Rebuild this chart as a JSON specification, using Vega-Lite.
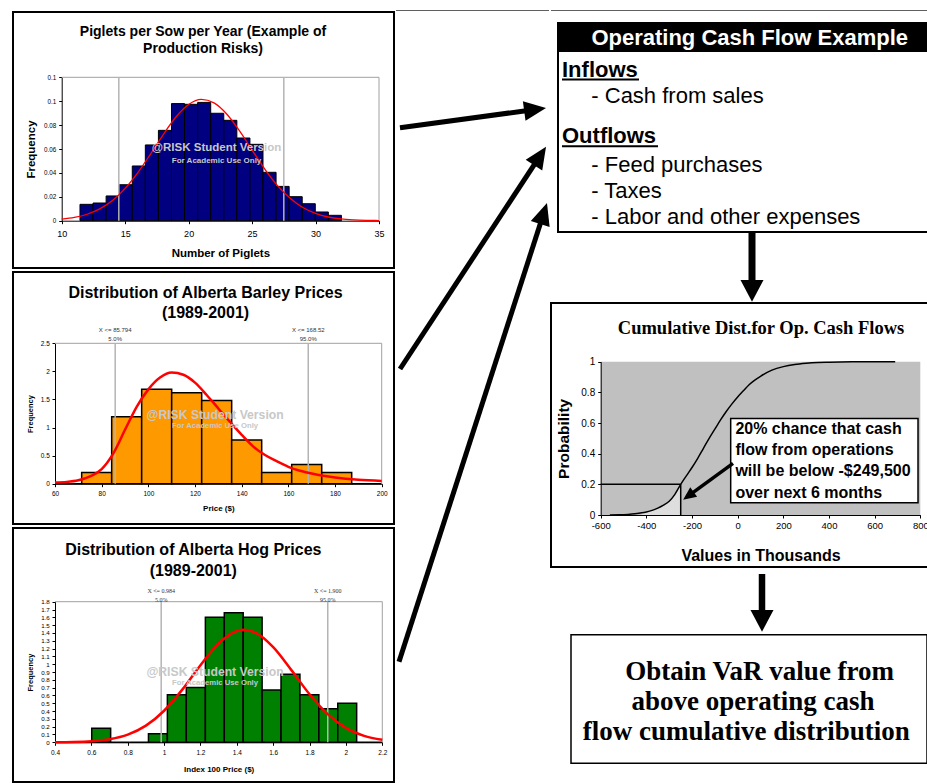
{
"$schema": "https://vega.github.io/schema/vega-lite/v6.json",
"background": "white",
"padding": {"left": 12, "top": 10, "right": 0, "bottom": 0},
"spacing": 0,
"config": {
  "view": {"stroke": null},
  "font": "Liberation Sans",
  "axis": {"labelFont": "Liberation Sans", "labelColor": "black", "labelFlush": false, "labelOverlap": false, "tickColor": "black", "domainColor": "black", "grid": false, "titleFont": "Liberation Sans", "titleFontWeight": "bold", "titleColor": "black", "titleBaseline": "alphabetic", "tickSize": 3},
  "text": {"font": "Liberation Sans", "color": "black"}
},
"datasets": {
  "pig_bins": [
    {"x0": 11.44, "x1": 12.47, "f": 0.0137}, {"x0": 12.47, "x1": 13.5, "f": 0.0148}, {"x0": 13.5, "x1": 14.53, "f": 0.0207},
    {"x0": 14.53, "x1": 15.56, "f": 0.0301}, {"x0": 15.56, "x1": 16.59, "f": 0.0458}, {"x0": 16.59, "x1": 17.62, "f": 0.0634},
    {"x0": 17.62, "x1": 18.65, "f": 0.0756}, {"x0": 18.65, "x1": 19.68, "f": 0.098}, {"x0": 19.68, "x1": 20.71, "f": 0.0974},
    {"x0": 20.71, "x1": 21.74, "f": 0.099}, {"x0": 21.74, "x1": 22.77, "f": 0.0899}, {"x0": 22.77, "x1": 23.8, "f": 0.084},
    {"x0": 23.8, "x1": 24.83, "f": 0.0692}, {"x0": 24.83, "x1": 25.86, "f": 0.0639}, {"x0": 25.86, "x1": 26.89, "f": 0.0405},
    {"x0": 26.89, "x1": 27.92, "f": 0.0287}, {"x0": 27.92, "x1": 28.95, "f": 0.0201}, {"x0": 28.95, "x1": 29.98, "f": 0.0142},
    {"x0": 29.98, "x1": 31.01, "f": 0.0073}, {"x0": 31.01, "x1": 32.04, "f": 0.0045}
  ],
  "pig_curve": [
    {"x": 10, "f": 0.0013}, {"x": 11, "f": 0.0027}, {"x": 12, "f": 0.0054}, {"x": 13, "f": 0.0099}, {"x": 14, "f": 0.0169},
    {"x": 15, "f": 0.0271}, {"x": 16, "f": 0.0403}, {"x": 17, "f": 0.0558}, {"x": 18, "f": 0.0721}, {"x": 19, "f": 0.0868},
    {"x": 20, "f": 0.0972}, {"x": 21, "f": 0.1015}, {"x": 22, "f": 0.0986}, {"x": 23, "f": 0.0893}, {"x": 24, "f": 0.0753},
    {"x": 25, "f": 0.0591}, {"x": 26, "f": 0.0432}, {"x": 27, "f": 0.0294}, {"x": 28, "f": 0.0187}, {"x": 29, "f": 0.011},
    {"x": 30, "f": 0.0061}, {"x": 31, "f": 0.0031}, {"x": 32, "f": 0.0015}, {"x": 33, "f": 0.0007}, {"x": 34, "f": 0.0003}, {"x": 35, "f": 0.0001}
  ],
  "barley_bins": [
    {"x0": 60, "x1": 71.43, "f": 0}, {"x0": 71.43, "x1": 84.29, "f": 0.2}, {"x0": 84.29, "x1": 97.14, "f": 1.19},
    {"x0": 97.14, "x1": 110, "f": 1.68}, {"x0": 110, "x1": 122.86, "f": 1.62}, {"x0": 122.86, "x1": 135.71, "f": 1.48},
    {"x0": 135.71, "x1": 148.57, "f": 0.78}, {"x0": 148.57, "x1": 161.43, "f": 0.2}, {"x0": 161.43, "x1": 174.29, "f": 0.34},
    {"x0": 174.29, "x1": 187.14, "f": 0.2}, {"x0": 187.14, "x1": 200, "f": 0}
  ],
  "barley_curve": [
    {"x": 60, "f": 0.02}, {"x": 65, "f": 0.03}, {"x": 70, "f": 0.06}, {"x": 75, "f": 0.13}, {"x": 80, "f": 0.26},
    {"x": 85, "f": 0.54}, {"x": 90, "f": 0.96}, {"x": 95, "f": 1.37}, {"x": 100, "f": 1.68}, {"x": 105, "f": 1.89},
    {"x": 110, "f": 1.98}, {"x": 115, "f": 1.94}, {"x": 120, "f": 1.8}, {"x": 125, "f": 1.58}, {"x": 130, "f": 1.34},
    {"x": 135, "f": 1.1}, {"x": 140, "f": 0.87}, {"x": 145, "f": 0.66}, {"x": 150, "f": 0.51}, {"x": 155, "f": 0.4},
    {"x": 160, "f": 0.3}, {"x": 165, "f": 0.23}, {"x": 170, "f": 0.18}, {"x": 175, "f": 0.14}, {"x": 180, "f": 0.11},
    {"x": 190, "f": 0.07}, {"x": 200, "f": 0.05}
  ],
  "hog_bins": [
    {"x0": 0.4, "x1": 0.602, "f": 0}, {"x0": 0.602, "x1": 0.706, "f": 0.18}, {"x0": 0.706, "x1": 0.81, "f": 0},
    {"x0": 0.81, "x1": 0.914, "f": 0}, {"x0": 0.914, "x1": 1.018, "f": 0.11}, {"x0": 1.018, "x1": 1.122, "f": 0.61},
    {"x0": 1.122, "x1": 1.227, "f": 0.7}, {"x0": 1.227, "x1": 1.331, "f": 1.6}, {"x0": 1.331, "x1": 1.435, "f": 1.66},
    {"x0": 1.435, "x1": 1.539, "f": 1.6}, {"x0": 1.539, "x1": 1.643, "f": 0.67}, {"x0": 1.643, "x1": 1.747, "f": 0.87},
    {"x0": 1.747, "x1": 1.851, "f": 0.61}, {"x0": 1.851, "x1": 1.955, "f": 0.43}, {"x0": 1.955, "x1": 2.059, "f": 0.5},
    {"x0": 2.059, "x1": 2.2, "f": 0}
  ],
  "hog_curve": [
    {"x": 0.4, "f": 0.001}, {"x": 0.5, "f": 0.004}, {"x": 0.6, "f": 0.014}, {"x": 0.7, "f": 0.04}, {"x": 0.8, "f": 0.098},
    {"x": 0.9, "f": 0.213}, {"x": 1.0, "f": 0.404}, {"x": 1.1, "f": 0.674}, {"x": 1.2, "f": 0.987}, {"x": 1.3, "f": 1.266},
    {"x": 1.4, "f": 1.425}, {"x": 1.44, "f": 1.44}, {"x": 1.5, "f": 1.406}, {"x": 1.6, "f": 1.217}, {"x": 1.7, "f": 0.924},
    {"x": 1.8, "f": 0.615}, {"x": 1.9, "f": 0.36}, {"x": 2.0, "f": 0.184}, {"x": 2.1, "f": 0.083}, {"x": 2.2, "f": 0.033}
  ],
  "cdf": [
    {"v": -560, "p": 0}, {"v": -520, "p": 0.001}, {"v": -480, "p": 0.004}, {"v": -450, "p": 0.008}, {"v": -420, "p": 0.014},
    {"v": -400, "p": 0.02}, {"v": -375, "p": 0.03}, {"v": -350, "p": 0.045}, {"v": -325, "p": 0.065}, {"v": -300, "p": 0.09},
    {"v": -275, "p": 0.135}, {"v": -249.5, "p": 0.2}, {"v": -225, "p": 0.255}, {"v": -200, "p": 0.31}, {"v": -175, "p": 0.37},
    {"v": -150, "p": 0.435}, {"v": -125, "p": 0.5}, {"v": -100, "p": 0.56}, {"v": -75, "p": 0.62}, {"v": -50, "p": 0.675},
    {"v": -25, "p": 0.725}, {"v": 0, "p": 0.77}, {"v": 25, "p": 0.81}, {"v": 50, "p": 0.85}, {"v": 75, "p": 0.88},
    {"v": 100, "p": 0.905}, {"v": 150, "p": 0.945}, {"v": 200, "p": 0.968}, {"v": 250, "p": 0.982}, {"v": 300, "p": 0.99},
    {"v": 350, "p": 0.995}, {"v": 400, "p": 0.997}, {"v": 500, "p": 0.999}, {"v": 600, "p": 1}, {"v": 690, "p": 1}
  ],
  "cdf_tail": [
    {"v": -420, "p": 0.014}, {"v": -400, "p": 0.02}, {"v": -375, "p": 0.03}, {"v": -350, "p": 0.045}, {"v": -325, "p": 0.065},
    {"v": -300, "p": 0.09}, {"v": -275, "p": 0.135}, {"v": -249.5, "p": 0.2}
  ]
},
"hconcat": [
  {
    "spacing": 4,
    "bounds": "flush",
    "vconcat": [
      {
        "width": 381, "height": 256,
        "view": {"stroke": "black", "strokeWidth": 2},
        "resolve": {"axis": {"x": "independent", "y": "independent"}},
        "layer": [
          {"data": {"name": "pig_bins"},
           "mark": {"type": "rect", "fill": "#000080", "stroke": "black", "strokeWidth": 1},
           "encoding": {
             "x": {"field": "x0", "type": "quantitative", "scale": {"domain": [10, 35], "range": [48.7, 366], "nice": false, "zero": false},
                   "axis": {"orient": "bottom", "offset": -47.3, "values": [10, 15, 20, 25, 30, 35], "labelFontSize": 9, "labelPadding": 6, "title": "Number of Piglets", "titleFontSize": 11.5, "titleY": 36}},
             "x2": {"field": "x1"},
             "y": {"field": "f", "type": "quantitative", "scale": {"domain": [0, 0.12], "range": [208.7, 65.3], "nice": false, "zero": false},
                   "axis": {"orient": "left", "offset": -48.7, "values": [0, 0.02, 0.04, 0.06, 0.08, 0.1, 0.12], "format": "~g", "labelFontSize": 6.3, "labelPadding": 3, "title": "Frequency", "titleFontSize": 11.5, "titleX": -27.6}},
             "y2": {"datum": 0}
           }},
          {"data": {"values": [{}]},
           "mark": {"type": "rule", "color": "#a0a0a0", "strokeWidth": 1},
           "encoding": {"x": {"datum": 10, "type": "quantitative", "axis": null}, "x2": {"datum": 35}, "y": {"datum": 0.12, "type": "quantitative", "axis": null}}},
          {"data": {"values": [{}]},
           "mark": {"type": "rule", "color": "#a0a0a0", "strokeWidth": 1},
           "encoding": {"x": {"datum": 35, "type": "quantitative", "axis": null}, "y": {"datum": 0, "type": "quantitative", "axis": null}, "y2": {"datum": 0.12}}},
          {"data": {"values": [{"x": 14.5}, {"x": 27.5}]},
           "mark": {"type": "rule", "color": "#b4b4b4", "strokeWidth": 1.5},
           "encoding": {"x": {"field": "x", "type": "quantitative", "axis": null}, "y": {"datum": 0, "type": "quantitative", "axis": null}, "y2": {"datum": 0.12}}},
          {"data": {"name": "pig_curve"},
           "mark": {"type": "line", "color": "#ff0000", "strokeWidth": 1.3, "interpolate": "monotone"},
           "encoding": {"x": {"field": "x", "type": "quantitative", "axis": null}, "y": {"field": "f", "type": "quantitative", "axis": null}}},
          {"data": {"values": [{}]},
           "mark": {"type": "text", "text": "@RISK Student Version", "fontSize": 11.5, "fontWeight": "bold", "color": "#c8c8c8", "align": "center", "baseline": "middle"},
           "encoding": {"x": {"datum": 22.2, "type": "quantitative", "axis": null}, "y": {"datum": 0.0606, "type": "quantitative", "axis": null}}},
          {"data": {"values": [{}]},
           "mark": {"type": "text", "text": "For Academic Use Only", "fontSize": 8, "fontWeight": "bold", "color": "#c8c8c8", "align": "center", "baseline": "middle"},
           "encoding": {"x": {"datum": 22.2, "type": "quantitative", "axis": null}, "y": {"datum": 0.0502, "type": "quantitative", "axis": null}}},
          {"data": {"values": [{}]},
           "mark": {"type": "text", "text": ["Piglets per Sow per Year (Example of", "Production Risks)"], "fontSize": 14, "fontWeight": "bold", "lineHeight": 17.3, "align": "center", "baseline": "alphabetic"},
           "encoding": {"x": {"datum": 21.133, "type": "quantitative", "scale": {"domain": [10, 35], "range": [48.7, 366], "nice": false, "zero": false}, "axis": null},
                        "y": {"datum": 0.15456, "type": "quantitative", "scale": {"domain": [0, 0.12], "range": [208.7, 65.3], "nice": false, "zero": false}, "axis": null}}}
        ]
      },
      {
        "width": 381, "height": 252,
        "view": {"stroke": "black", "strokeWidth": 2},
        "resolve": {"axis": {"x": "independent", "y": "independent"}},
        "layer": [
          {"data": {"name": "barley_bins"},
           "mark": {"type": "rect", "fill": "#ff9900", "stroke": "black", "strokeWidth": 1.5},
           "encoding": {
             "x": {"field": "x0", "type": "quantitative", "scale": {"domain": [60, 200], "range": [42, 368.7], "nice": false, "zero": false},
                   "axis": {"orient": "bottom", "offset": -40.3, "values": [60, 80, 100, 120, 140, 160, 180, 200], "labelFontSize": 6.5, "labelPadding": 4, "title": "Price ($)", "titleFontSize": 8, "titleY": 27}},
             "x2": {"field": "x1"},
             "y": {"field": "f", "type": "quantitative", "scale": {"domain": [0, 2.5], "range": [211.7, 71.3], "nice": false, "zero": false},
                   "axis": {"orient": "left", "offset": -42, "values": [0, 0.5, 1, 1.5, 2, 2.5], "format": "~g", "labelFontSize": 6.5, "labelPadding": 2.7, "title": "Frequency", "titleFontSize": 7.5, "titleX": -23}},
             "y2": {"datum": 0}
           }},
          {"data": {"values": [{}]},
           "mark": {"type": "rule", "color": "#a0a0a0", "strokeWidth": 1},
           "encoding": {"x": {"datum": 60, "type": "quantitative", "axis": null}, "x2": {"datum": 200}, "y": {"datum": 2.5, "type": "quantitative", "axis": null}}},
          {"data": {"values": [{}]},
           "mark": {"type": "rule", "color": "#a0a0a0", "strokeWidth": 1},
           "encoding": {"x": {"datum": 200, "type": "quantitative", "axis": null}, "y": {"datum": 0, "type": "quantitative", "axis": null}, "y2": {"datum": 2.5}}},
          {"data": {"values": [{"x": 85.794}, {"x": 168.52}]},
           "mark": {"type": "rule", "color": "#b4b4b4", "strokeWidth": 1.5},
           "encoding": {"x": {"field": "x", "type": "quantitative", "axis": null}, "y": {"datum": 0, "type": "quantitative", "axis": null}, "y2": {"datum": 2.5}}},
          {"data": {"name": "barley_curve"},
           "mark": {"type": "line", "color": "#ff0000", "strokeWidth": 2.5, "interpolate": "monotone"},
           "encoding": {"x": {"field": "x", "type": "quantitative", "axis": null}, "y": {"field": "f", "type": "quantitative", "axis": null}}},
          {"data": {"values": [{"x": 85.794, "t": "X <= 85.794\n5.0%"}, {"x": 168.52, "t": "X <= 168.52\n95.0%"}]},
           "mark": {"type": "text", "fontSize": 6, "lineBreak": "\n", "lineHeight": 9, "align": "center", "baseline": "alphabetic", "color": "#333333"},
           "encoding": {"x": {"field": "x", "type": "quantitative", "axis": null},
                        "y": {"datum": 2.7, "type": "quantitative", "scale": {"domain": [0, 2.5], "range": [211.7, 71.3], "nice": false, "zero": false}, "axis": null},
                        "text": {"field": "t"}}},
          {"data": {"values": [{}]},
           "mark": {"type": "text", "text": "@RISK Student Version", "fontSize": 12.2, "fontWeight": "bold", "color": "#c8c8c8", "align": "center", "baseline": "middle"},
           "encoding": {"x": {"datum": 128.6, "type": "quantitative", "axis": null}, "y": {"datum": 1.22, "type": "quantitative", "axis": null}}},
          {"data": {"values": [{}]},
           "mark": {"type": "text", "text": "For Academic Use Only", "fontSize": 7.7, "fontWeight": "bold", "color": "#c8c8c8", "align": "center", "baseline": "middle"},
           "encoding": {"x": {"datum": 128.6, "type": "quantitative", "axis": null}, "y": {"datum": 1.03, "type": "quantitative", "axis": null}}},
          {"data": {"values": [{}]},
           "mark": {"type": "text", "text": ["Distribution of Alberta Barley Prices", "(1989-2001)"], "fontSize": 16, "fontWeight": "bold", "lineHeight": 19.5, "align": "center", "baseline": "alphabetic"},
           "encoding": {"x": {"datum": 124.5, "type": "quantitative", "scale": {"domain": [60, 200], "range": [42, 368.7], "nice": false, "zero": false}, "axis": null},
                        "y": {"datum": 3.3013, "type": "quantitative", "scale": {"domain": [0, 2.5], "range": [211.7, 71.3], "nice": false, "zero": false}, "axis": null}}}
        ]
      },
      {
        "width": 381, "height": 254,
        "view": {"stroke": "black", "strokeWidth": 2},
        "resolve": {"axis": {"x": "independent", "y": "independent"}},
        "layer": [
          {"data": {"name": "hog_bins"},
           "mark": {"type": "rect", "fill": "#008000", "stroke": "black", "strokeWidth": 1.5},
           "encoding": {
             "x": {"field": "x0", "type": "quantitative", "scale": {"domain": [0.4, 2.2], "range": [42, 369.3], "nice": false, "zero": false},
                   "axis": {"orient": "bottom", "offset": -39.7, "values": [0.4, 0.6, 0.8, 1, 1.2, 1.4, 1.6, 1.8, 2, 2.2], "format": "~g", "labelFontSize": 6.5, "labelPadding": 4.5, "title": "Index 100 Price ($)", "titleFontSize": 8, "titleY": 28.7}},
             "x2": {"field": "x1"},
             "y": {"field": "f", "type": "quantitative", "scale": {"domain": [0, 1.8], "range": [214.3, 73.7], "nice": false, "zero": false},
                   "axis": {"orient": "left", "offset": -42, "values": [0, 0.1, 0.2, 0.3, 0.4, 0.5, 0.6, 0.7, 0.8, 0.9, 1, 1.1, 1.2, 1.3, 1.4, 1.5, 1.6, 1.7, 1.8], "format": "~g", "labelFontSize": 6.2, "labelPadding": 2.7, "title": "Frequency", "titleFontSize": 7.5, "titleX": -22.3}},
             "y2": {"datum": 0}
           }},
          {"data": {"values": [{}]},
           "mark": {"type": "rule", "color": "#a0a0a0", "strokeWidth": 1},
           "encoding": {"x": {"datum": 0.4, "type": "quantitative", "axis": null}, "x2": {"datum": 2.2}, "y": {"datum": 1.8, "type": "quantitative", "axis": null}}},
          {"data": {"values": [{}]},
           "mark": {"type": "rule", "color": "#a0a0a0", "strokeWidth": 1},
           "encoding": {"x": {"datum": 2.2, "type": "quantitative", "axis": null}, "y": {"datum": 0, "type": "quantitative", "axis": null}, "y2": {"datum": 1.8}}},
          {"data": {"values": [{"x": 0.984}, {"x": 1.9}]},
           "mark": {"type": "rule", "color": "#b4b4b4", "strokeWidth": 1.5},
           "encoding": {"x": {"field": "x", "type": "quantitative", "axis": null}, "y": {"datum": 0, "type": "quantitative", "axis": null}, "y2": {"datum": 1.8}}},
          {"data": {"name": "hog_curve"},
           "mark": {"type": "line", "color": "#ff0000", "strokeWidth": 2.5, "interpolate": "monotone"},
           "encoding": {"x": {"field": "x", "type": "quantitative", "axis": null}, "y": {"field": "f", "type": "quantitative", "axis": null}}},
          {"data": {"values": [{"x": 0.984, "t": "X <= 0.984\n5.0%"}, {"x": 1.9, "t": "X <= 1.900\n95.0%"}]},
           "mark": {"type": "text", "font": "Liberation Serif", "fontSize": 6, "lineBreak": "\n", "lineHeight": 8.7, "align": "center", "baseline": "alphabetic", "color": "#333333"},
           "encoding": {"x": {"field": "x", "type": "quantitative", "axis": null},
                        "y": {"datum": 1.905, "type": "quantitative", "scale": {"domain": [0, 1.8], "range": [214.3, 73.7], "nice": false, "zero": false}, "axis": null},
                        "text": {"field": "t"}}},
          {"data": {"values": [{}]},
           "mark": {"type": "text", "text": "@RISK Student Version", "fontSize": 12.2, "fontWeight": "bold", "color": "#c8c8c8", "align": "center", "baseline": "middle"},
           "encoding": {"x": {"datum": 1.28, "type": "quantitative", "axis": null}, "y": {"datum": 0.9, "type": "quantitative", "axis": null}}},
          {"data": {"values": [{}]},
           "mark": {"type": "text", "text": "For Academic Use Only", "fontSize": 7.7, "fontWeight": "bold", "color": "#c8c8c8", "align": "center", "baseline": "middle"},
           "encoding": {"x": {"datum": 1.28, "type": "quantitative", "axis": null}, "y": {"datum": 0.76, "type": "quantitative", "axis": null}}},
          {"data": {"values": [{}]},
           "mark": {"type": "text", "text": ["Distribution of Alberta Hog Prices", "(1989-2001)"], "fontSize": 16, "fontWeight": "bold", "lineHeight": 20.7, "align": "center", "baseline": "alphabetic"},
           "encoding": {"x": {"datum": 1.16061, "type": "quantitative", "scale": {"domain": [0.4, 2.2], "range": [42, 369.3], "nice": false, "zero": false}, "axis": null},
                        "y": {"datum": 2.39785, "type": "quantitative", "scale": {"domain": [0, 1.8], "range": [214.3, 73.7], "nice": false, "zero": false}, "axis": null}}}
        ]
      }
    ]
  },
  {
    "width": 153, "height": 770,
    "layer": [
      {"data": {"values": [{}]}, "mark": {"type": "rule", "color": "#606060", "strokeWidth": 1},
       "encoding": {"x": {"datum": 0, "type": "quantitative", "scale": {"domain": [0, 153], "nice": false, "zero": false}, "axis": null}, "x2": {"datum": 153},
                    "y": {"datum": -1.5, "type": "quantitative", "scale": {"domain": [0, 770], "reverse": true, "nice": false, "zero": false}, "axis": null}}},
      {"data": {"values": [{}]}, "mark": {"type": "rule", "color": "black", "strokeWidth": 5},
       "encoding": {"x": {"datum": 4, "type": "quantitative", "axis": null}, "x2": {"datum": 139.1}, "y": {"datum": 115.7, "type": "quantitative", "axis": null}, "y2": {"datum": 97.5}}},
      {"data": {"values": [{}]}, "mark": {"type": "point", "shape": "M-0.9,-1L0.9,-1L0,1Z", "size": 484, "filled": true, "color": "black", "opacity": 1, "angle": 262.3},
       "encoding": {"x": {"datum": 139.1, "type": "quantitative", "axis": null}, "y": {"datum": 97.5, "type": "quantitative", "axis": null}}},
      {"data": {"values": [{}]}, "mark": {"type": "rule", "color": "black", "strokeWidth": 5},
       "encoding": {"x": {"datum": 4, "type": "quantitative", "axis": null}, "x2": {"datum": 144}, "y": {"datum": 357, "type": "quantitative", "axis": null}, "y2": {"datum": 143.9}}},
      {"data": {"values": [{}]}, "mark": {"type": "point", "shape": "M-0.9,-1L0.9,-1L0,1Z", "size": 484, "filled": true, "color": "black", "opacity": 1, "angle": 213.3},
       "encoding": {"x": {"datum": 144, "type": "quantitative", "axis": null}, "y": {"datum": 143.9, "type": "quantitative", "axis": null}}},
      {"data": {"values": [{}]}, "mark": {"type": "rule", "color": "black", "strokeWidth": 5},
       "encoding": {"x": {"datum": 3, "type": "quantitative", "axis": null}, "x2": {"datum": 147.6}, "y": {"datum": 649.7, "type": "quantitative", "axis": null}, "y2": {"datum": 201.5}}},
      {"data": {"values": [{}]}, "mark": {"type": "point", "shape": "M-0.9,-1L0.9,-1L0,1Z", "size": 484, "filled": true, "color": "black", "opacity": 1, "angle": 197.9},
       "encoding": {"x": {"datum": 147.6, "type": "quantitative", "axis": null}, "y": {"datum": 201.5, "type": "quantitative", "axis": null}}}
    ]
  },
  {
    "spacing": 0,
    "bounds": "flush",
    "vconcat": [
      {
        "width": 377, "height": 221,
        "layer": [
          {"data": {"values": [{}]}, "mark": {"type": "rule", "color": "#606060", "strokeWidth": 1},
           "encoding": {"x": {"datum": 0, "type": "quantitative", "scale": {"domain": [0, 377], "nice": false, "zero": false}, "axis": null}, "x2": {"datum": 378.5},
                        "y": {"datum": -1.5, "type": "quantitative", "scale": {"domain": [0, 221], "reverse": true, "nice": false, "zero": false}, "axis": null}}},
          {"data": {"values": [{}]}, "mark": {"type": "rect", "fill": "white", "stroke": "black", "strokeWidth": 2},
           "encoding": {"x": {"datum": 7, "type": "quantitative", "axis": null}, "x2": {"datum": 377}, "y": {"datum": 11, "type": "quantitative", "axis": null}, "y2": {"datum": 220}}},
          {"data": {"values": [{}]}, "mark": {"type": "rect", "fill": "black"},
           "encoding": {"x": {"datum": 7, "type": "quantitative", "axis": null}, "x2": {"datum": 377}, "y": {"datum": 11, "type": "quantitative", "axis": null}, "y2": {"datum": 40}}},
          {"data": {"values": [{}]}, "mark": {"type": "text", "text": "Operating Cash Flow Example", "fontSize": 22, "fontWeight": "bold", "color": "white", "align": "center", "baseline": "alphabetic"},
           "encoding": {"x": {"datum": 198.7, "type": "quantitative", "axis": null}, "y": {"datum": 33, "type": "quantitative", "axis": null}}},
          {"data": {"values": [{}]}, "mark": {"type": "text", "text": "Inflows", "fontSize": 22, "fontWeight": "bold", "align": "left", "baseline": "alphabetic"},
           "encoding": {"x": {"datum": 11, "type": "quantitative", "axis": null}, "y": {"datum": 64.7, "type": "quantitative", "axis": null}}},
          {"data": {"values": [{}]}, "mark": {"type": "rule", "color": "black", "strokeWidth": 2},
           "encoding": {"x": {"datum": 11, "type": "quantitative", "axis": null}, "x2": {"datum": 88}, "y": {"datum": 67.5, "type": "quantitative", "axis": null}}},
          {"data": {"values": [{}]}, "mark": {"type": "text", "text": "- Cash from sales", "fontSize": 22, "align": "left", "baseline": "alphabetic"},
           "encoding": {"x": {"datum": 40.3, "type": "quantitative", "axis": null}, "y": {"datum": 91.3, "type": "quantitative", "axis": null}}},
          {"data": {"values": [{}]}, "mark": {"type": "text", "text": "Outflows", "fontSize": 22, "fontWeight": "bold", "align": "left", "baseline": "alphabetic"},
           "encoding": {"x": {"datum": 11, "type": "quantitative", "axis": null}, "y": {"datum": 131.3, "type": "quantitative", "axis": null}}},
          {"data": {"values": [{}]}, "mark": {"type": "rule", "color": "black", "strokeWidth": 2},
           "encoding": {"x": {"datum": 11, "type": "quantitative", "axis": null}, "x2": {"datum": 107}, "y": {"datum": 134.2, "type": "quantitative", "axis": null}}},
          {"data": {"values": [{}]}, "mark": {"type": "text", "text": ["- Feed purchases", "- Taxes", "- Labor and other expenses"], "fontSize": 22, "lineHeight": 26, "align": "left", "baseline": "alphabetic"},
           "encoding": {"x": {"datum": 40.3, "type": "quantitative", "axis": null}, "y": {"datum": 159.7, "type": "quantitative", "axis": null}}}
        ]
      },
      {
        "width": 377, "height": 70,
        "layer": [
          {"data": {"values": [{}]}, "mark": {"type": "rule", "color": "black", "strokeWidth": 7},
           "encoding": {"x": {"datum": 201, "type": "quantitative", "scale": {"domain": [0, 377], "nice": false, "zero": false}, "axis": null},
                        "y": {"datum": 0, "type": "quantitative", "scale": {"domain": [0, 70], "reverse": true, "nice": false, "zero": false}, "axis": null}, "y2": {"datum": 48}}},
          {"data": {"values": [{}]}, "mark": {"type": "point", "shape": "M-1.06,-1L1.06,-1L0,1Z", "size": 471, "filled": true, "color": "black", "opacity": 1},
           "encoding": {"x": {"datum": 201, "type": "quantitative", "axis": null}, "y": {"datum": 57.9, "type": "quantitative", "axis": null}}}
        ]
      },
      {
        "width": 377, "height": 264,
        "view": {"stroke": "black", "strokeWidth": 2},
        "resolve": {"axis": {"x": "independent", "y": "independent"}},
        "layer": [
          {"data": {"values": [{}]}, "mark": {"type": "rect", "fill": "#c0c0c0"},
           "encoding": {"x": {"datum": -600, "type": "quantitative", "scale": {"domain": [-600, 800], "range": [49.7, 369.3], "nice": false, "zero": false}, "axis": null}, "x2": {"datum": 800},
                        "y": {"datum": 0, "type": "quantitative", "scale": {"domain": [0, 1], "range": [212, 58.7], "nice": false, "zero": false}, "axis": null}, "y2": {"datum": 1}}},
          {"data": {"name": "cdf_tail"}, "mark": {"type": "area", "fill": "#dedede", "interpolate": "monotone"},
           "encoding": {"x": {"field": "v", "type": "quantitative", "axis": null}, "y": {"field": "p", "type": "quantitative", "axis": null}, "y2": {"datum": 0}}},
          {"data": {"name": "cdf"}, "mark": {"type": "line", "color": "black", "strokeWidth": 1.5, "interpolate": "monotone"},
           "encoding": {
             "x": {"field": "v", "type": "quantitative", "scale": {"domain": [-600, 800], "range": [49.7, 369.3], "nice": false, "zero": false},
                   "axis": {"orient": "bottom", "zindex": 1, "offset": -52, "values": [-600, -400, -200, 0, 200, 400, 600, 800], "labelExpr": "datum.value + ''", "labelFontSize": 9.5, "labelPadding": 2, "title": "Values in Thousands", "titleFontSize": 16, "titleY": 45}},
             "y": {"field": "p", "type": "quantitative", "scale": {"domain": [0, 1], "range": [212, 58.7], "nice": false, "zero": false},
                   "axis": {"orient": "left", "zindex": 1, "offset": -49.7, "values": [0, 0.2, 0.4, 0.6, 0.8, 1], "format": "~g", "labelFontSize": 10, "labelPadding": 3, "title": "Probability", "titleFontSize": 15.5, "titleX": -32}}
           }},
          {"data": {"values": [{}]}, "mark": {"type": "rule", "color": "black", "strokeWidth": 1.5},
           "encoding": {"x": {"datum": -600, "type": "quantitative", "axis": null}, "x2": {"datum": -249.5}, "y": {"datum": 0.2, "type": "quantitative", "axis": null}}},
          {"data": {"values": [{}]}, "mark": {"type": "rule", "color": "black", "strokeWidth": 1.5},
           "encoding": {"x": {"datum": -249.5, "type": "quantitative", "axis": null}, "y": {"datum": 0, "type": "quantitative", "axis": null}, "y2": {"datum": 0.2}}},
          {"data": {"values": [{}]}, "mark": {"type": "rect", "fill": "white", "stroke": "black", "strokeWidth": 1.5},
           "encoding": {"x": {"datum": -30.6, "type": "quantitative", "axis": null}, "x2": {"datum": 790}, "y": {"datum": 0.08, "type": "quantitative", "axis": null}, "y2": {"datum": 0.63}}},
          {"data": {"values": [{}]}, "mark": {"type": "text", "text": ["20% chance that cash", "flow from operations", "will be below -$249,500", "over next 6 months"], "fontSize": 16, "fontWeight": "bold", "lineHeight": 21.2, "align": "left", "baseline": "alphabetic"},
           "encoding": {"x": {"datum": -10, "type": "quantitative", "axis": null}, "y": {"datum": 0.528, "type": "quantitative", "axis": null}}},
          {"data": {"values": [{}]}, "mark": {"type": "rule", "color": "black", "strokeWidth": 3.5},
           "encoding": {"x": {"datum": -20.5, "type": "quantitative", "axis": null}, "x2": {"datum": -215.8}, "y": {"datum": 0.337, "type": "quantitative", "axis": null}, "y2": {"datum": 0.125}}},
          {"data": {"values": [{}]}, "mark": {"type": "point", "shape": "M-0.9,-1L0.9,-1L0,1Z", "size": 169, "filled": true, "color": "black", "opacity": 1, "angle": 54},
           "encoding": {"x": {"datum": -215.8, "type": "quantitative", "axis": null}, "y": {"datum": 0.125, "type": "quantitative", "axis": null}}},
          {"data": {"values": [{}]}, "mark": {"type": "text", "text": "Cumulative Dist.for Op. Cash Flows", "font": "Liberation Serif", "fontSize": 18.5, "fontWeight": "bold", "align": "center", "baseline": "alphabetic"},
           "encoding": {"x": {"datum": 102.2, "type": "quantitative", "scale": {"domain": [-600, 800], "range": [49.7, 369.3], "nice": false, "zero": false}, "axis": null},
                        "y": {"datum": 1.17874, "type": "quantitative", "scale": {"domain": [0, 1], "range": [212, 58.7], "nice": false, "zero": false}, "axis": null}}}
        ]
      },
      {
        "width": 377, "height": 67,
        "layer": [
          {"data": {"values": [{}]}, "mark": {"type": "rule", "color": "black", "strokeWidth": 6.5},
           "encoding": {"x": {"datum": 211, "type": "quantitative", "scale": {"domain": [0, 377], "nice": false, "zero": false}, "axis": null},
                        "y": {"datum": 7, "type": "quantitative", "scale": {"domain": [0, 67], "reverse": true, "nice": false, "zero": false}, "axis": null}, "y2": {"datum": 44}}},
          {"data": {"values": [{}]}, "mark": {"type": "point", "shape": "M-1.06,-1L1.06,-1L0,1Z", "size": 471, "filled": true, "color": "black", "opacity": 1},
           "encoding": {"x": {"datum": 211, "type": "quantitative", "axis": null}, "y": {"datum": 53.9, "type": "quantitative", "axis": null}}}
        ]
      },
      {
        "width": 377, "height": 130,
        "layer": [
          {"data": {"values": [{}]}, "mark": {"type": "rect", "fill": "white", "stroke": "black", "strokeWidth": 1.5},
           "encoding": {"x": {"datum": 20, "type": "quantitative", "scale": {"domain": [0, 377], "nice": false, "zero": false}, "axis": null}, "x2": {"datum": 376},
                        "y": {"datum": 0.75, "type": "quantitative", "scale": {"domain": [0, 130], "reverse": true, "nice": false, "zero": false}, "axis": null}, "y2": {"datum": 129.3}}},
          {"data": {"values": [{}]}, "mark": {"type": "text", "text": "Obtain VaR value from", "font": "Liberation Serif", "fontSize": 27, "fontWeight": "bold", "align": "center", "baseline": "alphabetic"},
           "encoding": {"x": {"datum": 208.7, "type": "quantitative", "axis": null}, "y": {"datum": 46, "type": "quantitative", "axis": null}}},
          {"data": {"values": [{}]}, "mark": {"type": "text", "text": "above operating cash", "font": "Liberation Serif", "fontSize": 27, "fontWeight": "bold", "align": "center", "baseline": "alphabetic"},
           "encoding": {"x": {"datum": 202, "type": "quantitative", "axis": null}, "y": {"datum": 76, "type": "quantitative", "axis": null}}},
          {"data": {"values": [{}]}, "mark": {"type": "text", "text": "flow cumulative distribution", "font": "Liberation Serif", "fontSize": 27, "fontWeight": "bold", "align": "center", "baseline": "alphabetic"},
           "encoding": {"x": {"datum": 195.3, "type": "quantitative", "axis": null}, "y": {"datum": 106, "type": "quantitative", "axis": null}}}
        ]
      }
    ]
  }
]
}
